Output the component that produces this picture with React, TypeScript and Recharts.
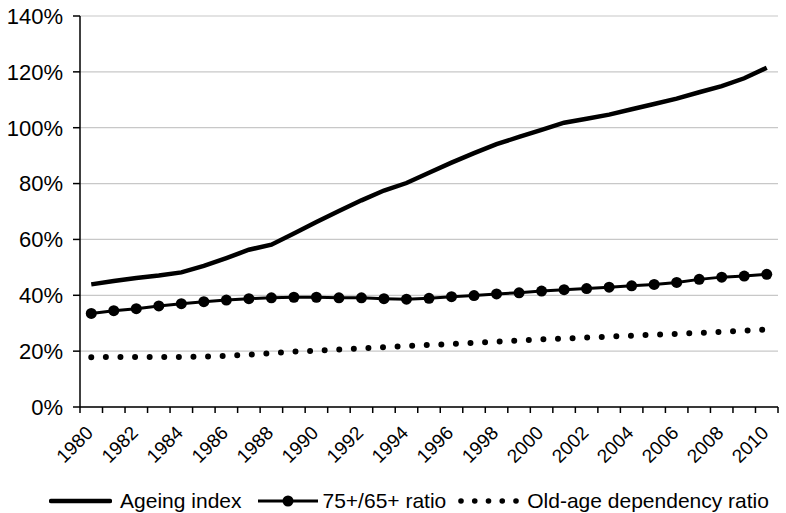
import React from 'react';
import { LineChart, Line, XAxis, YAxis, CartesianGrid, Legend } from 'recharts';

const years = [
  1980, 1981, 1982, 1983, 1984, 1985, 1986, 1987, 1988, 1989, 1990,
  1991, 1992, 1993, 1994, 1995, 1996, 1997, 1998, 1999, 2000,
  2001, 2002, 2003, 2004, 2005, 2006, 2007, 2008, 2009, 2010,
];

const ageingIndex = [
  43.9, 45.1, 46.2, 47.1, 48.2, 50.5, 53.3, 56.3, 58.1, 62.1, 66.2,
  70.2, 74.0, 77.5, 80.2, 83.9, 87.5, 90.9, 94.1, 96.7, 99.2,
  101.8, 103.2, 104.7, 106.6, 108.5, 110.4, 112.7, 114.9, 117.7, 121.5,
];

const ratio7565 = [
  33.5, 34.5, 35.2, 36.2, 37.0, 37.7, 38.3, 38.8, 39.1, 39.3, 39.3,
  39.1, 39.1, 38.8, 38.6, 38.9, 39.5, 39.9, 40.5, 40.9, 41.5,
  42.0, 42.4, 42.9, 43.4, 43.9, 44.6, 45.7, 46.5, 46.9, 47.5,
];

const dependency = [
  17.8, 17.9, 17.9, 17.9, 17.9, 18.0, 18.3, 18.7, 19.3, 19.8, 20.2,
  20.6, 21.0, 21.4, 21.8, 22.2, 22.6, 23.0, 23.4, 23.8, 24.2,
  24.5, 24.9, 25.2, 25.5, 25.9, 26.2, 26.5, 26.9, 27.3, 27.8,
];

const labelYears = [1980, 1982, 1984, 1986, 1988, 1990, 1992, 1994, 1996, 1998, 2000, 2002, 2004, 2006, 2008, 2010];
const yTicks = [0, 20, 40, 60, 80, 100, 120, 140];

const seriesNames: Record<string, string> = {
  ageing: 'Ageing index',
  ratio: '75+/65+ ratio',
  dependency: 'Old-age dependency ratio',
};
const legendOrder = ['ageing', 'ratio', 'dependency'];

const data = years.map((year, i) => ({
  year,
  ageing: ageingIndex[i],
  ratio: ratio7565[i],
  dependency: dependency[i],
}));

// tick marks sit between the years, labels on the even years
const boundaries = [...years.map((y) => y - 0.5), years[years.length - 1] + 0.5];
const xTicks = [...boundaries, ...labelYears];

const FONT = '"Liberation Sans", Arial, Helvetica, sans-serif';

const XTick = (props: any) => {
  const { x, y, payload } = props;
  const v = payload.value;
  if (v % 1 !== 0) {
    return <line x1={x} y1={y} x2={x} y2={y + 6} stroke="#000" strokeWidth={1.5} />;
  }
  const ax = x + 3;
  const ay = y + 27;
  return (
    <text
      x={ax}
      y={ay}
      textAnchor="end"
      fontSize={19}
      fontFamily={FONT}
      fill="#000"
      transform={`rotate(-45, ${ax}, ${ay})`}
    >
      {v}
    </text>
  );
};

const iconGap: Record<string, number> = { ageing: 8, ratio: 5, dependency: 8 };
const itemGap: Record<string, number> = { ageing: 16, ratio: 12, dependency: 0 };

const LegendIcon = ({ dataKey }: { dataKey: string }) => {
  if (dataKey === 'ageing') {
    return (
      <svg width={63} height={10}>
        <line x1={2} y1={5} x2={61} y2={5} stroke="#000" strokeWidth={4.5} strokeLinecap="round" />
      </svg>
    );
  }
  if (dataKey === 'ratio') {
    return (
      <svg width={60} height={12}>
        <line x1={0} y1={6} x2={60} y2={6} stroke="#000" strokeWidth={3} />
        <circle cx={30} cy={6} r={5.5} fill="#000" />
      </svg>
    );
  }
  return (
    <svg width={61} height={10}>
      {[0, 1, 2, 3, 4].map((k) => (
        <circle key={k} cx={3 + k * 13.75} cy={5} r={2.8} fill="#000" />
      ))}
    </svg>
  );
};

const LegendContent = (props: any) => {
  const payload: any[] = props.payload || [];
  const items = legendOrder
    .map((key) => payload.find((p) => p.dataKey === key))
    .filter(Boolean);
  return (
    <div
      style={{
        display: 'flex',
        justifyContent: 'center',
        alignItems: 'center',
        height: 24,
        fontFamily: FONT,
        fontSize: 21,
        color: '#000',
        paddingLeft: 40,
      }}
    >
      {items.map((entry: any) => (
        <div
          key={entry.dataKey}
          style={{ display: 'flex', alignItems: 'center', marginRight: itemGap[entry.dataKey] }}
        >
          <LegendIcon dataKey={entry.dataKey} />
          <span style={{ marginLeft: iconGap[entry.dataKey], whiteSpace: 'nowrap' }}>
            {seriesNames[entry.dataKey]}
          </span>
        </div>
      ))}
    </div>
  );
};

const App: React.FC = () => {
  return (
    <div style={{ position: 'absolute', left: 0, top: 0, width: 786, height: 513, background: '#fff' }}>
      <LineChart width={786} height={513} data={data} margin={{ top: 16, right: 8, left: 0, bottom: 0 }}>
        <CartesianGrid vertical={false} stroke="#c8c8c8" strokeWidth={1.2} />
        <XAxis
          dataKey="year"
          type="number"
          domain={[1979.5, 2010.5]}
          ticks={xTicks}
          interval={0}
          tick={<XTick />}
          tickLine={false}
          tickSize={0}
          tickMargin={0}
          axisLine={{ stroke: '#000', strokeWidth: 1.5 }}
          height={82}
        />
        <YAxis
          type="number"
          domain={[0, 140]}
          ticks={yTicks}
          interval={0}
          tickFormatter={(v) => `${v}%`}
          tick={{ fontSize: 22, fill: '#000', fontFamily: FONT }}
          tickSize={7}
          tickMargin={10}
          tickLine={{ stroke: '#000', strokeWidth: 1.5 }}
          axisLine={{ stroke: '#000', strokeWidth: 1.5 }}
          width={80}
        />
        <Legend verticalAlign="bottom" content={<LegendContent />} />
        <Line
          dataKey="ageing"
          name={seriesNames.ageing}
          stroke="#000"
          strokeWidth={4.5}
          dot={false}
          isAnimationActive={false}
        />
        <Line
          dataKey="ratio"
          name={seriesNames.ratio}
          stroke="#000"
          strokeWidth={3}
          dot={{ r: 5.5, fill: '#000', stroke: 'none' }}
          isAnimationActive={false}
        />
        <Line
          dataKey="dependency"
          name={seriesNames.dependency}
          stroke="#000"
          strokeWidth={6}
          strokeDasharray="0 14.6"
          strokeLinecap="round"
          dot={false}
          isAnimationActive={false}
        />
      </LineChart>
    </div>
  );
};

export default App;
